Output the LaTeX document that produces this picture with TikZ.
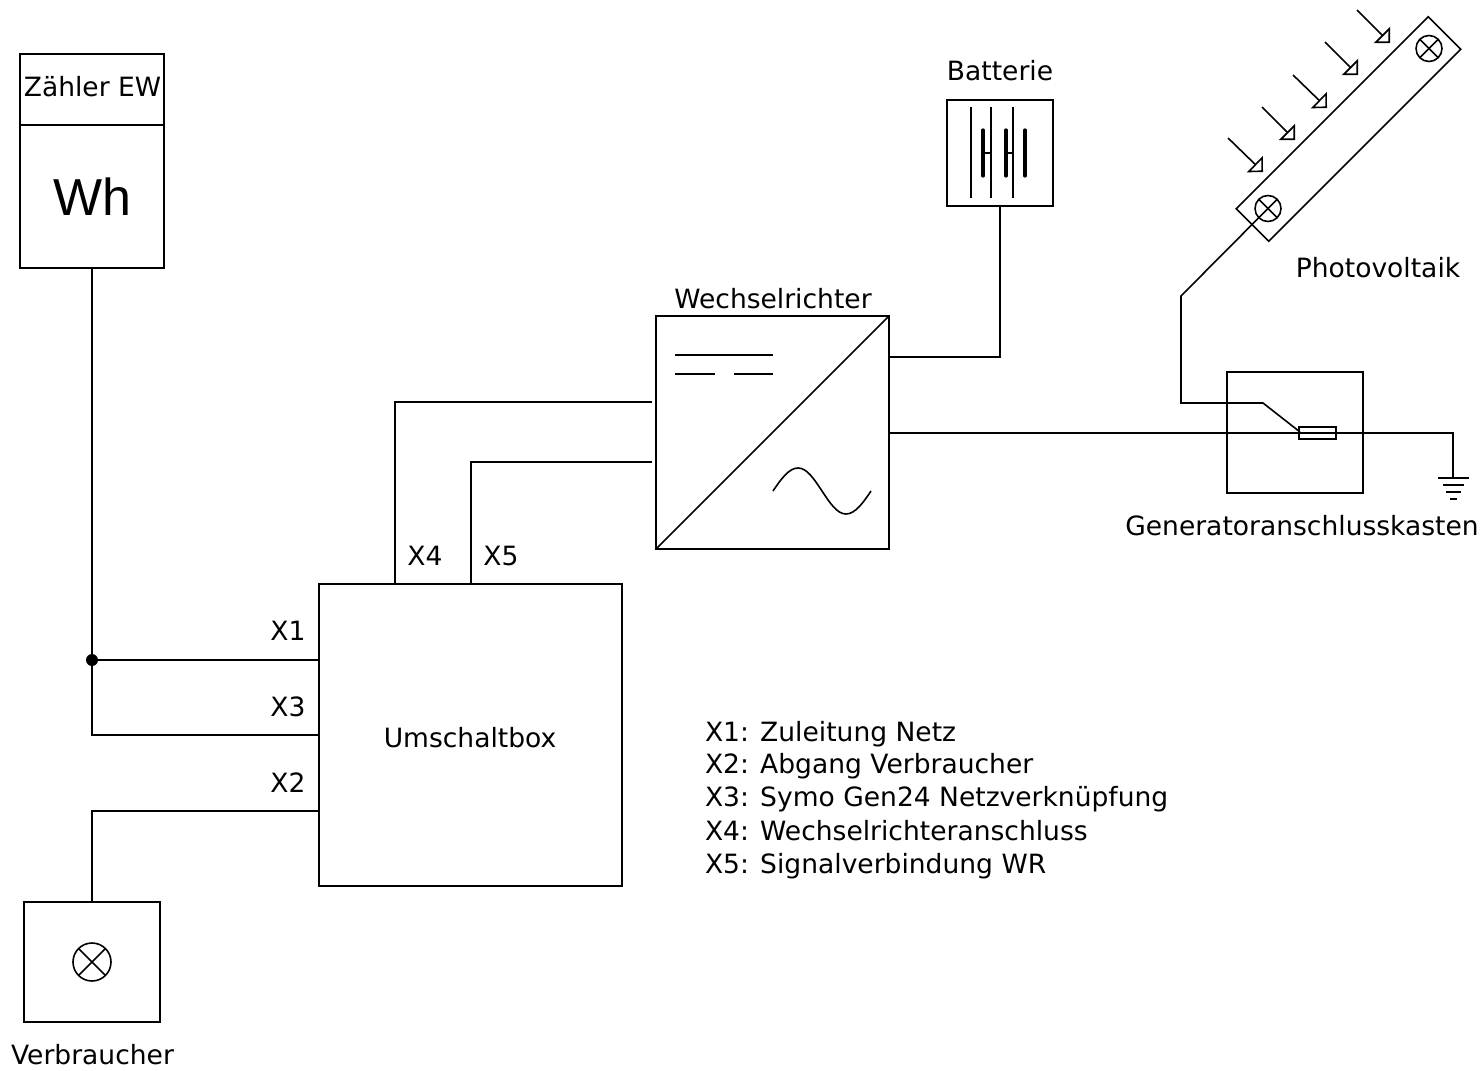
\documentclass[tikz,border=0pt]{standalone}
\usepackage{fontspec}
\setmainfont{DejaVu Sans}
\newfontfamily\wattfont{Liberation Sans}
\usetikzlibrary{arrows.meta}
\tikzset{
  wire/.style={line width=1.2pt, line join=miter},
  thinwire/.style={line width=1pt},
  platebar/.style={line width=2.4pt, line cap=round},
  box/.style={rectangle, draw, line width=1.2pt, inner sep=0pt, outer sep=0pt},
  lamp/.style={circle, draw, line width=1.2pt, inner sep=0pt, outer sep=0pt,
    path picture={
      \draw[line width=1.2pt] (path picture bounding box.north west) -- (path picture bounding box.south east);
      \draw[line width=1.2pt] (path picture bounding box.north east) -- (path picture bounding box.south west);
    }},
  sunray/.style={line width=1.2pt, -{Triangle[open,length=8.5pt,width=17pt]}},
  label/.style={inner sep=0pt, outer sep=0pt, font=\fontsize{19.9}{24}\selectfont},
  legend/.style={label, anchor=base west}
}
\begin{document}
\begin{tikzpicture}[x=0.75pt, y=-0.75pt]
  \useasboundingbox (0,0) rectangle (1483,1070);

  % Boxes
  \node[box, minimum width=108pt, minimum height=53.25pt] (zaehler) at (92,89.5) {};
  \node[box, minimum width=108pt, minimum height=107.25pt] (wh) at (92,196.5) {};
  \node[box, minimum width=227.25pt, minimum height=226.5pt] (umschalt) at (470.5,735) {};
  \node[box, minimum width=102pt, minimum height=90pt] (verbraucher) at (92,962) {};
  \node[box, minimum width=174.75pt, minimum height=174.75pt] (wr) at (772.5,432.5) {};
  \node[box, minimum width=79.5pt, minimum height=79.5pt] (batterie) at (1000,153) {};
  \node[box, minimum width=102pt, minimum height=90.75pt] (gak) at (1295,432.5) {};
  \node[box, minimum width=203.6pt, minimum height=34.5pt, rotate=45] (pv) at (1348.5,129) {};
  \node[box, minimum width=27.75pt, minimum height=9pt] (fuse) at (1317.5,433) {};

  % Lamps
  \node[lamp, minimum size=28.5pt] (lastlamp) at (92,962) {};
  \node[lamp, minimum size=19.5pt] (pvlamp1) at (1268,208.5) {};
  \node[lamp, minimum size=19.5pt] (pvlamp2) at (1429,48.5) {};

  % Texts
  \node[label] (zaehlertxt) at (92.5,87) {Zähler EW};
  \node[font=\wattfont\fontsize{39}{44}\selectfont, inner sep=0pt] (whtxt) at (92,197) {Wh};
  \node[label] (umschalttxt) at (470,738) {Umschaltbox};
  \node[label] (verbrauchertxt) at (92.5,1055) {Verbraucher};
  \node[label] (wrtxt) at (773,299) {Wechselrichter};
  \node[label] (batterietxt) at (1000,71) {Batterie};
  \node[label] (pvtxt) at (1378,268) {Photovoltaik};
  \node[label] (gaktxt) at (1302,526) {Generatoranschlusskasten};
  \node[label] (x1txt) at (288,631) {X1};
  \node[label] (x3txt) at (288,707) {X3};
  \node[label] (x2txt) at (288,783) {X2};
  \node[label] (x4txt) at (425,556) {X4};
  \node[label] (x5txt) at (501,556) {X5};

  % Legend
  \node[legend] (leg1) at (705,741) {X1: Zuleitung Netz};
  \node[legend] (leg2) at (705,773) {X2: Abgang Verbraucher};
  \node[legend] (leg3) at (705,806) {X3: Symo Gen24 Netzverknüpfung};
  \node[legend] (leg4) at (705,840) {X4: Wechselrichteranschluss};
  \node[legend] (leg5) at (705,873) {X5: Signalverbindung WR};

  % Left side wiring
  \node[circle, fill, minimum size=9pt, inner sep=0pt] (dot) at (92,660) {};
  \draw[wire] (wh.south) -- (dot.center);
  \draw[wire] (dot.center) -- (dot.center -| umschalt.west);
  \coordinate (x3) at (319,735);
  \coordinate (x2) at (319,811);
  \draw[wire] (dot.center) |- (x3);
  \draw[wire] (verbraucher.north) |- (x2);

  % Wiring up to the inverter
  \coordinate (x4) at (395,584);
  \coordinate (x5) at (471,584);
  \coordinate (wrin1) at (652,402);
  \coordinate (wrin2) at (652,462);
  \draw[wire] (x4) |- (wrin1);
  \draw[wire] (x5) |- (wrin2);

  % Inverter symbol
  \draw[wire] (wr.south west) -- (wr.north east);
  \coordinate (dc1) at (675,355);
  \coordinate (dc2) at (773,355);
  \coordinate (dc3) at (675,374);
  \coordinate (dc4) at (715,374);
  \coordinate (dc5) at (734,374);
  \coordinate (dc6) at (773,374);
  \draw[wire] (dc1) -- (dc2);
  \draw[wire] (dc3) -- (dc4);
  \draw[wire] (dc5) -- (dc6);
  \coordinate (ac1) at (773,491);
  \coordinate (ac2) at (822,491);
  \coordinate (ac3) at (871,491);
  \draw[wire] (ac1) .. controls (781,479) and (789,468) .. (798,468)
    .. controls (807,468) and (814,479) .. (ac2)
    .. controls (830,503) and (837,514) .. (846,514)
    .. controls (855,514) and (863,503) .. (ac3);

  % Battery
  \coordinate (wrbat) at (889,357);
  \draw[wire] (wrbat) -| (batterie.south);
  \coordinate (p1a) at (971,107);
  \coordinate (p1b) at (971,198);
  \coordinate (p2a) at (991,107);
  \coordinate (p2b) at (991,198);
  \coordinate (p3a) at (1013,107);
  \coordinate (p3b) at (1013,198);
  \draw[thinwire] (p1a) -- (p1b);
  \draw[thinwire] (p2a) -- (p2b);
  \draw[thinwire] (p3a) -- (p3b);
  \coordinate (q1a) at (983,130);
  \coordinate (q1b) at (983,176);
  \coordinate (q2a) at (1006,130);
  \coordinate (q2b) at (1006,176);
  \coordinate (q3a) at (1025,130);
  \coordinate (q3b) at (1025,176);
  \draw[platebar] (q1a) -- (q1b);
  \draw[platebar] (q2a) -- (q2b);
  \draw[platebar] (q3a) -- (q3b);
  \coordinate (h1) at (983,153);
  \coordinate (h2) at (1006,153);
  \draw[thinwire] (h1) -- (h1 -| p2a);
  \draw[thinwire] (h2) -- (h2 -| p3a);

  % Main line to earth
  \coordinate (wrout) at (889,433);
  \coordinate (earth) at (1453,478);
  \draw[wire] (wrout) -| (earth);
  \coordinate (e1a) at (1438,478);
  \coordinate (e1b) at (1469,478);
  \coordinate (e2a) at (1443,485);
  \coordinate (e2b) at (1464,485);
  \coordinate (e3a) at (1446,492);
  \coordinate (e3b) at (1461,492);
  \coordinate (e4a) at (1450,499);
  \coordinate (e4b) at (1457,499);
  \draw[wire] (e1a) -- (e1b);
  \draw[thinwire] (e2a) -- (e2b);
  \draw[thinwire] (e3a) -- (e3b);
  \draw[thinwire] (e4a) -- (e4b);

  % Photovoltaic feed
  \coordinate (bend1) at (1181,296);
  \coordinate (bend2) at (1181,403);
  \coordinate (bend3) at (1263,403);
  \coordinate (fusein) at (1300,432);
  \draw[wire] (pvlamp1.south west) -- (bend1) -- (bend2) -- (bend3) -- (fusein);

  % Sun rays
  \coordinate (s1a) at (1228,138);
  \coordinate (s1b) at (1263,172);
  \coordinate (s2a) at (1262,107);
  \coordinate (s2b) at (1295,140);
  \coordinate (s3a) at (1293,75);
  \coordinate (s3b) at (1327,108);
  \coordinate (s4a) at (1325,42);
  \coordinate (s4b) at (1358,75);
  \coordinate (s5a) at (1357,10);
  \coordinate (s5b) at (1390,43);
  \draw[sunray] (s1a) -- (s1b);
  \draw[sunray] (s2a) -- (s2b);
  \draw[sunray] (s3a) -- (s3b);
  \draw[sunray] (s4a) -- (s4b);
  \draw[sunray] (s5a) -- (s5b);
\end{tikzpicture}
\end{document}
